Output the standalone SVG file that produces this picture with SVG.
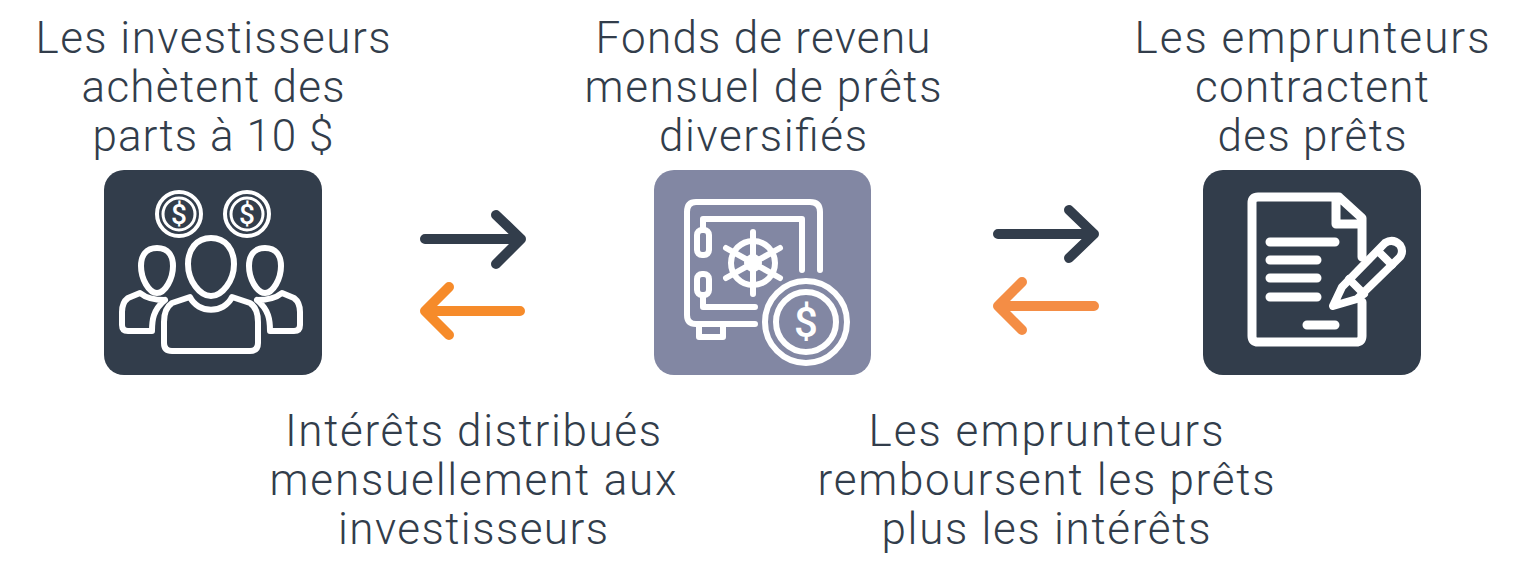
<svg xmlns="http://www.w3.org/2000/svg" width="1518" height="576" viewBox="0 0 1518 576">
<style>
text{font-family:"Roboto","Liberation Sans",sans-serif;font-weight:300;font-size:44px;fill:#323d4b;text-anchor:middle}
.i{fill:none;stroke:#fff;stroke-width:6;stroke-linecap:round;stroke-linejoin:round}
.t{stroke-width:9}
.dark{fill:#323d4b}
.a{fill:none;stroke-width:10;stroke-linecap:round;stroke-linejoin:round}
.d{font-size:28px;font-weight:500;fill:#fff}
</style>
<rect width="1518" height="576" fill="#fff"/>
<g id="connectors">
<path class="a" stroke="#323d4b" d="M425 239H521M496 215L521 239L496 264"/>
<path class="a" stroke="#f68b2a" d="M520 311H425M449 287L425 311L449 335"/>
<path class="a" stroke="#323d4b" d="M998 234H1094M1069 210L1094 234L1069 258"/>
<path class="a" stroke="#f48d45" d="M1094 306H998M1022 282L998 306L1022 330"/>
</g>
<g id="node-investors">
<rect class="dark" x="104" y="170" width="218" height="205" rx="20"/>
<g class="i">
<circle cx="179" cy="214" r="22" stroke-width="4"/><circle cx="179" cy="214" r="16" stroke-width="3"/>
<circle cx="247" cy="214" r="22" stroke-width="4"/><circle cx="247" cy="214" r="16" stroke-width="3"/>
<path d="M211 238C226 238 234 250 234 264C234 281 222 296 211 296C200 296 188 281 188 264C188 250 196 238 211 238Z"/>
<path d="M157 248C168 248 173 256 173 266C173 279 165 293 157 293C149 293 141 279 141 266C141 256 146 248 157 248Z"/>
<path d="M265 248C276 248 281 256 281 266C281 279 273 293 265 293C257 293 249 279 249 266C249 256 254 248 265 248Z"/>
<path d="M190 297C198 314 224 314 232 297L250 303C256 307 258 314 258 322V343Q258 351 250 351H172Q164 351 164 343V322C164 314 166 307 172 303Z"/>
<path d="M165 300C155 300 146 298 140 293L128 298C124 301 122 306 122 312V325Q122 331 128 331H152M152 331C152 320 153 310 165 300"/>
<path d="M257 300C267 300 276 298 282 293L294 298C298 301 300 306 300 312V325Q300 331 294 331H270M270 331C270 320 269 310 257 300"/>
</g>
<text class="d" x="179" y="224">$</text>
<text class="d" x="247" y="224">$</text>
</g>
<g id="node-fund">
<rect x="654" y="170" width="217" height="205" rx="20" fill="#8287a3"/>
<g class="i">
<path d="M755 324H696Q687 324 687 315V212Q687 202 696 202H810Q820 202 820 212V270"/>
<path d="M802 270V219H703V230M703 295V307H755"/>
<rect x="697" y="230" width="12" height="25" rx="5"/>
<rect x="697" y="274" width="12" height="21" rx="5"/>
<path d="M699 327V337H723V327"/>
<circle cx="753" cy="263" r="22"/><circle cx="753" cy="263" r="6"/>
<path d="M753 232V294M726 248L780 278M726 278L780 248"/>
<circle cx="806" cy="322" r="41"/><circle cx="806" cy="322" r="30"/>
</g>
<text class="d" x="806" y="337" style="font-size:42px">$</text>
</g>
<g id="node-borrowers">
<rect class="dark" x="1203" y="170" width="218" height="205" rx="20"/>
<g class="i t">
<path d="M1339 197H1258Q1252 197 1252 203V336Q1252 342 1258 342H1356Q1362 342 1362 336V302M1362 257V218L1339 197M1336 197V224H1362"/>
<path d="M1270 242H1335M1270 260H1317M1270 278H1317M1270 297H1317M1307 325H1335"/>
</g>
<g class="i" style="stroke-width:8">
<path d="M1333 306L1342 287L1385 243Q1393 238 1400 245Q1404 251 1400 257L1357 299Z"/>
<path d="M1378 251L1392 265M1349 279L1364 294"/>
</g>
</g>
<g id="labels">
<text x="213" y="53" textLength="355" lengthAdjust="spacing">Les investisseurs</text>
<text x="213" y="102" textLength="263" lengthAdjust="spacing">achètent des</text>
<text x="213" y="151" textLength="241" lengthAdjust="spacing">parts à 10 $</text>
<text x="763" y="53" textLength="335" lengthAdjust="spacing">Fonds de revenu</text>
<text x="763" y="102" textLength="357" lengthAdjust="spacing">mensuel de prêts</text>
<text x="763" y="151" textLength="208" lengthAdjust="spacing">diversifiés</text>
<text x="1312" y="53" textLength="355" lengthAdjust="spacing">Les emprunteurs</text>
<text x="1312" y="102" textLength="234" lengthAdjust="spacing">contractent</text>
<text x="1312" y="151" textLength="189" lengthAdjust="spacing">des prêts</text>
<text x="473" y="446" textLength="376" lengthAdjust="spacing">Intérêts distribués</text>
<text x="473" y="495" textLength="407" lengthAdjust="spacing">mensuellement aux</text>
<text x="473" y="544" textLength="270" lengthAdjust="spacing">investisseurs</text>
<text x="1046" y="446" textLength="355" lengthAdjust="spacing">Les emprunteurs</text>
<text x="1046" y="495" textLength="457" lengthAdjust="spacing">remboursent les prêts</text>
<text x="1046" y="544" textLength="329" lengthAdjust="spacing">plus les intérêts</text>
</g>
</svg>
